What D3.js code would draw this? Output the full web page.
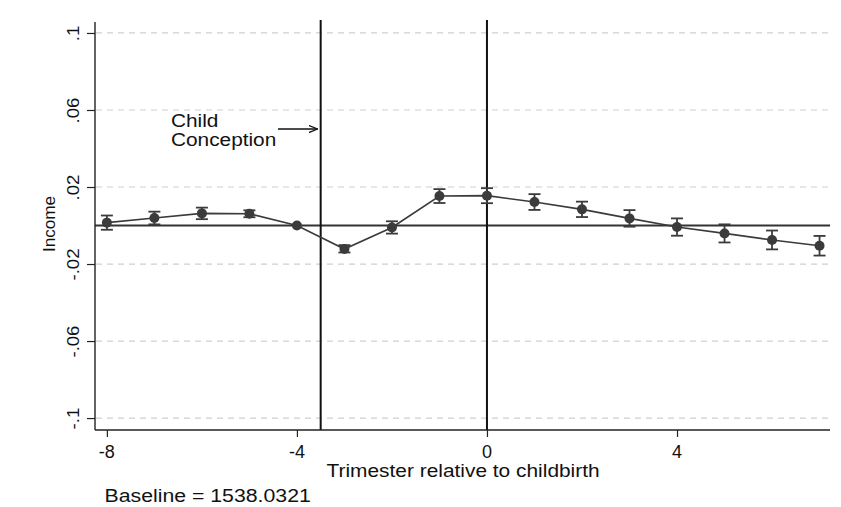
<!DOCTYPE html>
<html>
<head>
<meta charset="utf-8">
<script src="https://cdn.jsdelivr.net/npm/d3@7/dist/d3.min.js"></script>
<style>
  html, body { margin: 0; padding: 0; background: #fff; }
  svg { display: block; font-family: "Liberation Sans", Arial, sans-serif; }
</style>
</head>
<body>
<svg id="chart" width="841" height="507"></svg>
<script>
// Event-study estimates: income relative to trimester -4 (reference period)
const trimesters = [-8, -7, -6, -5, -4, -3, -2, -1, 0, 1, 2, 3, 4, 5, 6, 7];
const estimates  = [0.0015, 0.0039, 0.0063, 0.0061, 0.0, -0.0122, -0.0010, 0.0153, 0.0155, 0.0122, 0.0084, 0.0037, -0.0008, -0.0041, -0.0075, -0.0105];
const ciLow      = [-0.0022, 0.0006, 0.0033, 0.0043, 0.0, -0.0140, -0.0042, 0.0117, 0.0116, 0.0081, 0.0044, -0.0006, -0.0053, -0.0088, -0.0124, -0.0156];
const ciHigh     = [0.0052, 0.0072, 0.0093, 0.0079, 0.0, -0.0102, 0.0022, 0.0189, 0.0194, 0.0163, 0.0124, 0.0080, 0.0037, 0.0006, -0.0026, -0.0054];
const yTicks = [0.1, 0.06, 0.02, -0.02, -0.06, -0.1];
const yTickLabels = [".1", ".06", ".02", "-.02", "-.06", "-.1"];
const xTicks = [-8, -4, 0, 4];
const xTickLabels = ["-8", "-4", "0", "4"];
const conceptionX = -3.5;
const birthX = 0;

const svg = d3.select("#chart");
const plotLeft = 95, plotRight = 830, plotTop = 22, plotBottom = 430;

const x = d3.scaleLinear().domain([-8.25, 7.22]).range([plotLeft, plotRight]);
const y = d3.scaleLinear().domain([-0.1062, 0.1057]).range([plotBottom, plotTop]);

const ink = "#3b3b3b";
const textInk = "#111";

// Text placed at (tx, ty), stretched along its baseline by `stretch`, optionally rotated
function label(parent, tx, ty, str, size, anchor, stretch, rotate) {
  return parent.append("text")
    .attr("transform", `translate(${tx},${ty})${rotate ? ` rotate(${rotate})` : ""} scale(${stretch},1)`)
    .attr("text-anchor", anchor)
    .attr("font-size", size)
    .attr("fill", textInk)
    .text(str);
}

// Dashed gridlines
svg.append("g").selectAll("line").data(yTicks).join("line")
  .attr("x1", plotLeft + 1).attr("x2", plotRight)
  .attr("y1", d => y(d)).attr("y2", d => y(d))
  .attr("stroke", "#cfcfcf").attr("stroke-width", 1.2)
  .attr("stroke-dasharray", "6,5");

// Zero reference line
svg.append("line")
  .attr("x1", plotLeft).attr("x2", plotRight)
  .attr("y1", y(0)).attr("y2", y(0))
  .attr("stroke", "#333").attr("stroke-width", 2);

// Vertical event lines
[conceptionX, birthX].forEach(v => {
  svg.append("line")
    .attr("x1", x(v)).attr("x2", x(v))
    .attr("y1", plotTop - 2).attr("y2", plotBottom)
    .attr("stroke", "#111").attr("stroke-width", 2);
});

// Y axis (tick marks from d3, labels rotated)
const yAxis = d3.axisLeft(y).tickValues(yTicks).tickFormat((d, i) => yTickLabels[i]).tickSize(8);
const gy = svg.append("g").attr("transform", `translate(${plotLeft},0)`).call(yAxis);
gy.select(".domain").attr("stroke", "#222").attr("stroke-width", 1.4).attr("d", `M0,${plotTop}V${plotBottom}`);
gy.selectAll(".tick line").attr("stroke", "#222").attr("stroke-width", 1.2);
gy.selectAll(".tick text")
  .attr("x", null).attr("y", null).attr("dy", null)
  .attr("text-anchor", "middle")
  .attr("font-size", 16).attr("font-family", "Liberation Sans, Arial, sans-serif")
  .attr("fill", textInk)
  .attr("transform", "translate(-16,0) rotate(-90) scale(1.16,1)");

// X axis: d3 draws the baseline and tick marks
const xAxis = d3.axisBottom(x).tickValues(xTicks).tickFormat("").tickSize(7);
const gx = svg.append("g").attr("transform", `translate(0,${plotBottom})`).call(xAxis);
gx.select(".domain").attr("stroke", "#222").attr("stroke-width", 1.4).attr("d", `M${plotLeft},0H${plotRight}`);
gx.selectAll(".tick line").attr("stroke", "#222").attr("stroke-width", 1.2);

// Connecting line
svg.append("path")
  .datum(trimesters.map((t, i) => [t, estimates[i]]))
  .attr("fill", "none").attr("stroke", ink).attr("stroke-width", 1.6)
  .attr("d", d3.line().x(d => x(d[0])).y(d => y(d[1])));

// Confidence intervals
const ciData = trimesters.map((t, i) => ({ t, lo: ciLow[i], hi: ciHigh[i] }))
  .filter(d => d.hi !== d.lo);
const ci = svg.append("g").attr("stroke", ink).attr("stroke-width", 1.8);
ci.selectAll(".v").data(ciData).join("line")
  .attr("x1", d => x(d.t)).attr("x2", d => x(d.t))
  .attr("y1", d => y(d.lo)).attr("y2", d => y(d.hi));
ci.selectAll(".lo").data(ciData).join("line")
  .attr("x1", d => x(d.t) - 6).attr("x2", d => x(d.t) + 6)
  .attr("y1", d => y(d.lo)).attr("y2", d => y(d.lo));
ci.selectAll(".hi").data(ciData).join("line")
  .attr("x1", d => x(d.t) - 6).attr("x2", d => x(d.t) + 6)
  .attr("y1", d => y(d.hi)).attr("y2", d => y(d.hi));

// Point estimates
svg.append("g").selectAll("circle").data(trimesters).join("circle")
  .attr("cx", d => x(d)).attr("cy", (d, i) => y(estimates[i]))
  .attr("r", 5).attr("fill", ink);

// Annotation
label(svg, 171, 127, "Child", 17.5, "start", 1.19);
label(svg, 171, 145.5, "Conception", 17.5, "start", 1.19);

svg.append("defs").append("marker")
  .attr("id", "arrow").attr("viewBox", "0 0 10 10")
  .attr("refX", 10).attr("refY", 5)
  .attr("markerWidth", 9).attr("markerHeight", 9)
  .attr("markerUnits", "userSpaceOnUse")
  .attr("orient", "auto")
  .append("path").attr("d", "M0,1 L10,5 L0,9").attr("fill", "none")
  .attr("stroke", "#111").attr("stroke-width", 1.4);
svg.append("line")
  .attr("x1", 278).attr("x2", x(conceptionX) - 3)
  .attr("y1", 129).attr("y2", 129)
  .attr("stroke", "#111").attr("stroke-width", 1.3)
  .attr("marker-end", "url(#arrow)");

// Axis titles
label(svg, 55, 224, "Income", 16.3, "middle", 1.05, -90);
label(svg, 326.5, 477, "Trimester relative to childbirth", 18.5, "start", 1.13);

// Note
label(svg, 104.5, 501.5, "Baseline = 1538.0321", 18.5, "start", 1.15);

// X tick labels, drawn last so nothing sits over them
const xLabels = svg.append("g").attr("class", "x-tick-labels")
  .attr("font-size", 18).attr("fill", textInk).attr("text-anchor", "middle");
xLabels.selectAll("text").data(xTicks).join("text")
  .attr("x", d => x(d)).attr("y", plotBottom + 27.5)
  .text((d, i) => xTickLabels[i]);
</script>
</body>
</html>
